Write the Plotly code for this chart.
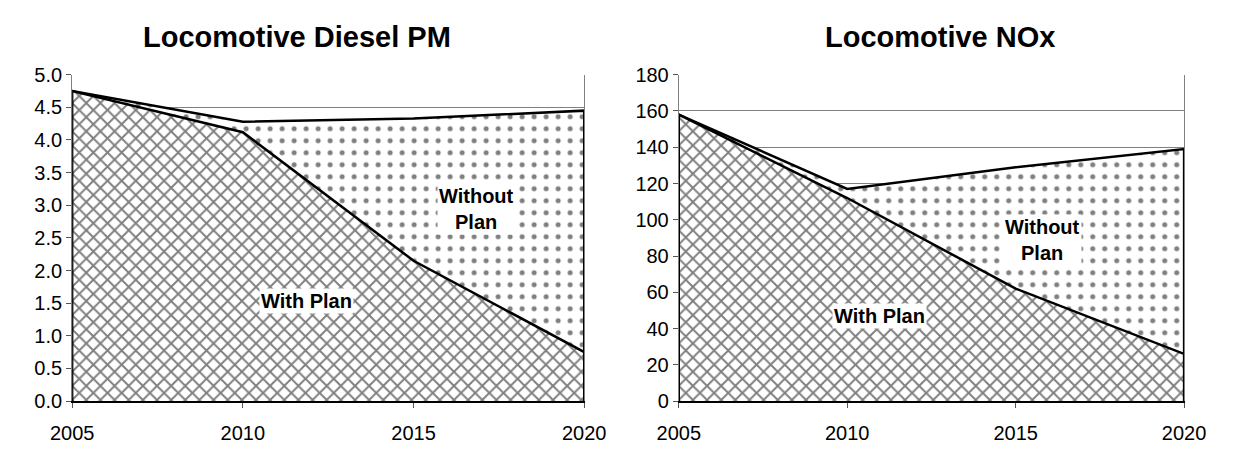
import plotly.graph_objects as go

years = [2005, 2010, 2015, 2020]

pm_with_plan = [4.75, 4.12, 2.15, 0.75]
pm_without_plan = [4.75, 4.28, 4.33, 4.45]

nox_with_plan = [158, 112, 62, 26]
nox_without_plan = [158, 117, 129, 139]

titles = ["Locomotive Diesel PM", "Locomotive NOx"]
label_with = "With Plan"
label_without = "Without<br>Plan"

W, H = 1236, 452
FONT = "Liberation Sans, Arial, sans-serif"

def px_x(v):
    return v / W

def px_y(v):
    return (H - v) / H

fig = go.Figure()

def closed(xs, ys):
    return [xs[0]] + list(xs) + [xs[-1]], [0] + list(ys) + [0]

def add_areas(xa, ya, without_vals, with_vals):
    x1, y1 = closed(years, without_vals)
    fig.add_trace(go.Scatter(
        x=x1, y=y1, xaxis=xa, yaxis=ya, mode="lines", fill="toself",
        line=dict(color="black", width=2.5),
        fillcolor="white",
        fillpattern=dict(shape=".", size=12, solidity=0.14, fgcolor="black", bgcolor="white"),
        showlegend=False, hoverinfo="skip"))
    x2, y2 = closed(years, with_vals)
    fig.add_trace(go.Scatter(
        x=x2, y=y2, xaxis=xa, yaxis=ya, mode="lines", fill="toself",
        line=dict(color="black", width=2.5),
        fillcolor="white",
        fillpattern=dict(shape="x", size=10, solidity=0.35, fgcolor="black", bgcolor="white"),
        showlegend=False, hoverinfo="skip"))

add_areas("x", "y", pm_without_plan, pm_with_plan)
add_areas("x2", "y2", nox_without_plan, nox_with_plan)

ydom = [px_y(410), px_y(67)]
common_x = dict(range=[2005, 2020], tickvals=years, ticks="outside", ticklen=5,
                tickcolor="#555", showline=True, linecolor="black", linewidth=2,
                showgrid=False, zeroline=False, ticklabelstandoff=8,
                tickfont=dict(family=FONT, size=20, color="black"))
common_y = dict(ticks="outside", ticklen=5, tickcolor="#555", showline=True,
                linecolor="#808080", linewidth=1, mirror=True,
                showgrid=True, gridcolor="#808080", gridwidth=1, zeroline=False,
                tickfont=dict(family=FONT, size=20, color="black"))

fig.update_layout(
    width=W, height=H,
    margin=dict(l=0, r=0, t=0, b=0),
    paper_bgcolor="white", plot_bgcolor="white",
    xaxis=dict(domain=[px_x(52), px_x(583)], anchor="y", **common_x),
    yaxis=dict(domain=ydom, anchor="x", range=[0, 5], dtick=0.5, tickformat=".1f", **common_y),
    xaxis2=dict(domain=[px_x(681), px_x(1205)], anchor="y2", **common_x),
    yaxis2=dict(domain=ydom, anchor="x2", range=[0, 180], dtick=20, **common_y),
)

annos = [
    dict(text="<b>%s</b>" % titles[0], x=px_x(285), y=px_y(27), xref="paper", yref="paper",
         xanchor="center", yanchor="middle", showarrow=False,
         font=dict(family=FONT, size=29, color="black")),
    dict(text="<b>%s</b>" % titles[1], x=px_x(952), y=px_y(27), xref="paper", yref="paper",
         xanchor="center", yanchor="middle", showarrow=False,
         font=dict(family=FONT, size=29, color="black")),
    dict(text="<b>%s</b>" % label_with, x=2011.85, y=1.53, xref="x", yref="y"),
    dict(text="<b>%s</b>" % label_without, x=2016.85, y=2.95, xref="x", yref="y"),
    dict(text="<b>%s</b>" % label_with, x=2010.95, y=47, xref="x2", yref="y2"),
    dict(text="<b>%s</b>" % label_without, x=2015.8, y=89, xref="x2", yref="y2"),
]
for a in annos[2:]:
    a.update(showarrow=False, bgcolor="white", borderpad=1,
             xanchor="center", yanchor="middle",
             font=dict(family=FONT, size=20, color="black"))
fig.update_layout(annotations=annos)

fig.write_html("out.html", config={"displayModeBar": False},
               post_script="document.body.style.margin='0';")
